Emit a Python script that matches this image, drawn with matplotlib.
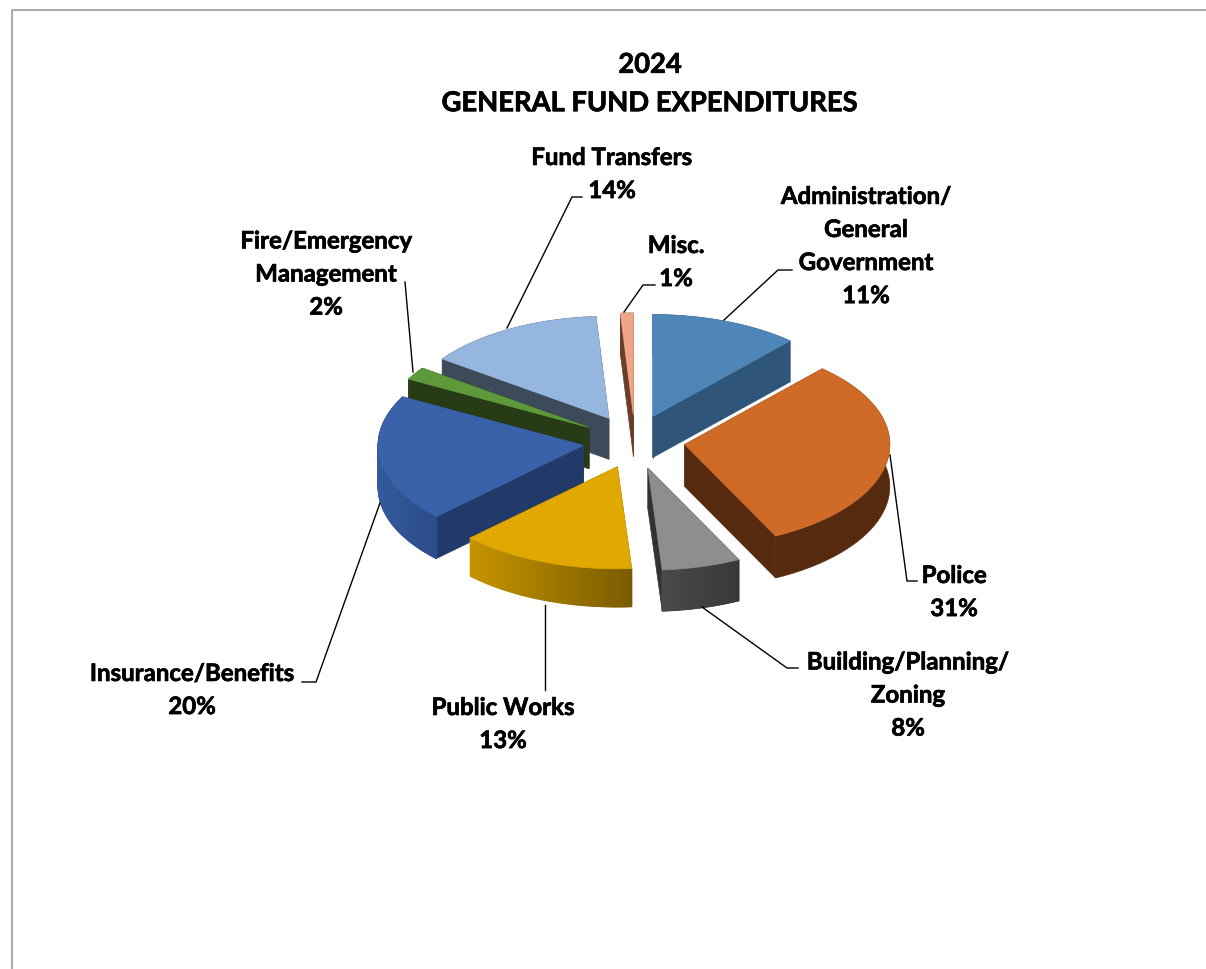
import numpy as np
import matplotlib
matplotlib.use("Agg")
import matplotlib.pyplot as plt
import matplotlib.patheffects as pe
from matplotlib.collections import PolyCollection
from matplotlib.colors import to_rgb
from matplotlib.patches import Polygon

plt.rcParams['font.family'] = ['Lato', 'DejaVu Sans']

# --- data ---
categories = ["Administration/\nGeneral\nGovernment", "Police", "Building/Planning/\nZoning",
              "Public Works", "Insurance/Benefits", "Fire/Emergency\nManagement",
              "Fund Transfers", "Misc."]
shares = [11, 31, 8, 13, 20, 2, 14, 1]
title_lines = "2024\nGENERAL FUND EXPENDITURES"

# --- styles ---
top_colors = ["#4F86B8", "#CF6B27", "#8E8E8E", "#E0A800", "#3A62AA", "#5E9A3C", "#95B6DE", "#EFA588"]
cut_colors = ["#2F5578", "#552A0F", "#333333", "#7A5C00", "#213A69", "#273C16", "#3C4A59", "#6B3E2A"]
rim_left = ["#2F5578", "#552A0F", "#4A4A4A", "#C69400", "#34599C", "#273C16", "#3C4A59", "#6B3E2A"]
rim_right = ["#2F5578", "#552A0F", "#383838", "#7A5C00", "#2B4C8A", "#273C16", "#3C4A59", "#6B3E2A"]
draw_order = [0, 7, 6, 5, 4, 1, 2, 3]
label_xy = [(866, 246), (954, 592), (908, 695), (503, 724), (192, 690), (326, 274), (612, 174), (676, 262)]
leaders = [[(724, 320), (778, 270), (792, 270)],
           [(890, 455), (907, 581), (917, 581)],
           [(702, 607), (787, 668), (798, 668)],
           [(545, 605), (545, 690)],
           [(380, 503), (316, 682), (302, 682)],
           [(413, 372), (405, 282)],
           [(507, 328), (572, 197), (582, 197)],
           [(624, 312), (643, 285), (655, 285)]]
CX, CY, RX, RY = 633, 442, 205, 102
DEPTHS = [41, 42, 41, 38, 42, 41, 41, 41]
NUDGE_X = [2, 0, 2, 5, 2, 0, 1, 2]
EX, EY = 52, 27
WARP_AT = [0, 39.6, 90, 151.2, 180, 226.8, 360]
WARP_BY = [0, 2.5, 0, 2.5, -4, -1, 0]
FS = 17.3

fig = plt.figure(figsize=(12.06, 9.69), dpi=100)
ax = fig.add_axes([0, 0, 1, 1])
ax.set_xlim(0, 1206)
ax.set_ylim(969, 0)
ax.axis("off")

# frame, open at the right and bottom
ax.plot([11.5, 11.5, 1206], [969, 9.5, 9.5], color="#ABABAB", lw=1.5, zorder=1)


def ring(theta, ax0, ay0):
    th = np.radians(theta + np.interp(theta, WARP_AT, WARP_BY))
    return ax0 + RX * np.sin(th), ay0 - RY * np.cos(th)


edges = np.concatenate([[0], np.cumsum(shares)]) * 3.6
z = 2
for i in draw_order:
    a0, a1 = edges[i], edges[i + 1]
    mid = np.radians((a0 + a1) / 2)
    ax0, ay0 = CX + EX * np.sin(mid) + NUDGE_X[i], CY - EY * np.cos(mid)
    d = DEPTHS[i]
    th = np.linspace(a0, a1, max(int(a1 - a0) * 2, 12))
    xs, ys = ring(th, ax0, ay0)
    # cut faces
    for x_e, y_e in [(xs[0], ys[0]), (xs[-1], ys[-1])]:
        ax.add_patch(Polygon([(ax0, ay0), (x_e, y_e), (x_e, y_e + d), (ax0, ay0 + d)],
                             closed=True, fc=cut_colors[i], ec=cut_colors[i], lw=0.5, zorder=z))
    z += 1
    # outer rim: solid base, then bands shaded left to right
    lc, rc = np.array(to_rgb(rim_left[i])), np.array(to_rgb(rim_right[i]))
    ax.add_patch(Polygon(np.column_stack([np.r_[xs, xs[::-1]], np.r_[ys, ys[::-1] + d]]), closed=True,
                         fc=(lc + rc) / 2, ec=(lc + rc) / 2, lw=0.5, zorder=z))
    z += 1
    if rim_left[i] != rim_right[i]:
        quads = [[(xs[k], ys[k]), (xs[k + 1], ys[k + 1]), (xs[k + 1], ys[k + 1] + d), (xs[k], ys[k] + d)]
                 for k in range(len(xs) - 1)]
        xm = (xs[:-1] + xs[1:]) / 2
        front = ys[:-1] + ys[1:] > 2 * ay0 - 40
        span = xm[front] if front.any() else xm
        t = np.clip((xm - span.min()) / max(np.ptp(span), 1), 0, 1)[:, None]
        cols = (1 - t) * lc + t * rc
        ax.add_collection(PolyCollection(quads, facecolors=cols, edgecolors=cols, linewidths=1.0, zorder=z))
        z += 1
    # top face
    ax.add_patch(Polygon(np.column_stack([np.r_[ax0, xs], np.r_[ay0, ys]]), closed=True,
                         fc=top_colors[i], ec=top_colors[i], lw=0.5, zorder=z))
    z += 1

for pts in leaders:
    p = np.array(pts)
    ax.plot(p[:, 0], p[:, 1], color="black", lw=1.0, zorder=50, solid_joinstyle="miter")

heavy = [pe.withStroke(linewidth=0.5, foreground="black")]
ax.text(650, 84, title_lines, ha="center", va="center", fontsize=19.7, fontweight="bold",
        color="black", linespacing=1.72, zorder=60, path_effects=heavy)
for name, share, (lx, ly) in zip(categories, shares, label_xy):
    ax.text(lx, ly, f"{name}\n{share}%", ha="center", va="center", fontsize=FS, fontweight="bold",
            color="black", linespacing=1.53, zorder=60, path_effects=heavy)

fig.savefig("out.png", dpi=100)
